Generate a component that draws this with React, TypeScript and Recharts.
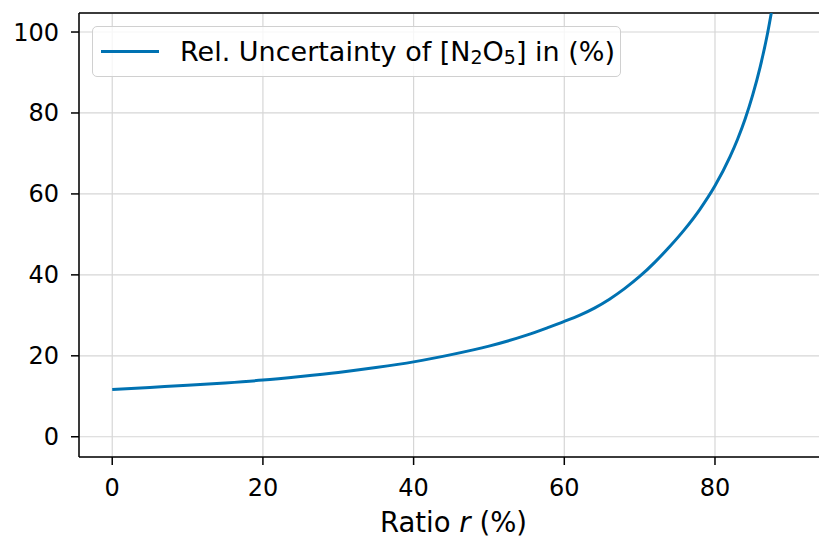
import { LineChart, Line, XAxis, YAxis, CartesianGrid, ReferenceLine, Label } from 'recharts';

const ratio = [0, 5, 10, 15, 20, 25, 30, 35, 40, 45, 50, 55, 58, 60, 62, 64, 66, 68, 70, 72, 74, 76, 78, 80, 82, 83, 84, 85, 86, 87, 88];
const uncertainty = [11.7, 12.2, 12.7, 13.3, 14.0, 14.9, 15.9, 17.1, 18.5, 20.3, 22.4, 25.1, 27.1, 28.5, 30.0, 31.8, 34.0, 36.6, 39.6, 43.1, 47.0, 51.3, 56.2, 62.0, 69.2, 73.5, 78.5, 84.4, 91.4, 99.9, 110.4];
const xTicks = [0, 20, 40, 60, 80];
const yTicks = [0, 20, 40, 60, 80, 100];

const data = ratio.map((r, i) => ({ r, u: uncertainty[i] }));

const FONT = '"DejaVu Sans", sans-serif';
const BLUE = '#0072b2';
const Y_MAX = 104.7;
const subStyle = { fontSize: 19, verticalAlign: -3, lineHeight: 0 };

function LegendBox() {
  return (
    <div
      style={{
        position: 'absolute',
        left: 92,
        top: 26,
        width: 529,
        height: 51,
        boxSizing: 'border-box',
        border: '1.5px solid #d0d0d0',
        borderRadius: 5,
        background: 'rgba(255,255,255,0.8)',
        display: 'flex',
        alignItems: 'center',
        fontFamily: FONT,
        fontSize: 27,
        color: '#000',
        whiteSpace: 'nowrap',
      }}
    >
      <div style={{ width: 58, height: 3, background: BLUE, marginLeft: 8, marginRight: 21 }} />
      <span>
        Rel. Uncertainty of [N<sub style={subStyle}>2</sub>O<sub style={subStyle}>5</sub>] in (%)
      </span>
    </div>
  );
}

function XLabel(props: any) {
  const { viewBox } = props;
  const cx = viewBox.x + viewBox.width / 2;
  return (
    <text x={cx} y={532} textAnchor="middle" fontFamily={FONT} fontSize={27.5} fill="#000">
      Ratio <tspan fontStyle="italic">r</tspan> (%)
    </text>
  );
}

export default function App() {
  return (
    <div style={{ position: 'absolute', left: 0, top: 0, width: 819, height: 539, overflow: 'hidden', background: '#fff' }}>
      <LineChart width={840} height={539} data={data} margin={{ top: 13, right: 12, bottom: 0, left: 0 }}>
        <CartesianGrid stroke="#d6d6d6" strokeWidth={1.2} />
        <XAxis
          dataKey="r"
          type="number"
          domain={[-4.41, 95]}
          ticks={xTicks}
          allowDataOverflow
          height={82}
          tickSize={8}
          tickMargin={14}
          axisLine={{ stroke: '#000', strokeWidth: 1.5 }}
          tickLine={{ stroke: '#000', strokeWidth: 1.5 }}
          tick={{ fill: '#000', fontSize: 24, fontFamily: FONT }}
        >
          <Label content={XLabel} />
        </XAxis>
        <YAxis
          type="number"
          domain={[-5, Y_MAX]}
          ticks={yTicks}
          allowDataOverflow
          width={79}
          tickSize={8}
          tickMargin={12}
          axisLine={{ stroke: '#000', strokeWidth: 1.5 }}
          tickLine={{ stroke: '#000', strokeWidth: 1.5 }}
          tick={{ fill: '#000', fontSize: 24, fontFamily: FONT }}
        />
        <ReferenceLine y={Y_MAX} stroke="#000" strokeWidth={1.5} />
        <Line
          dataKey="u"
          type="monotone"
          stroke={BLUE}
          strokeWidth={3}
          dot={false}
          isAnimationActive={false}
        />
      </LineChart>
      <LegendBox />
    </div>
  );
}
